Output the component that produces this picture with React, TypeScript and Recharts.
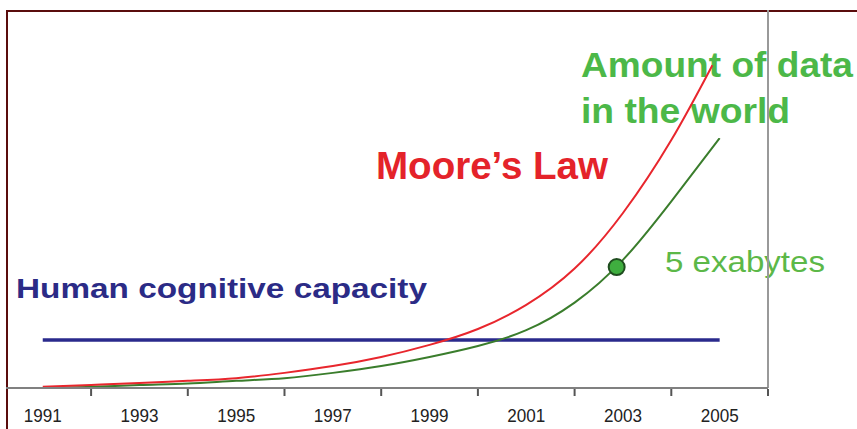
import React from 'react';
import { LineChart, Line, XAxis, YAxis, ReferenceLine, ReferenceDot, Customized } from 'recharts';

// years on the x axis, values in % of the plot height
const years = [1991, 1992, 1993, 1994, 1995, 1996, 1997, 1998, 1999, 2000, 2001, 2002, 2003, 2004, 2005];
const dataInWorld = [0, 0.3, 0.8, 1.2, 1.9, 2.6, 4.0, 5.8, 8.2, 11.1, 15.3, 22.6, 33.9, 49.4, 66.1];
const mooreYears = [1991, 1992, 1993, 1994, 1995, 1996, 1997, 1998, 1999, 2000, 2001, 2002, 2003, 2004, 2004.85];
const mooresLaw = [0.3, 0.8, 1.3, 1.9, 2.6, 4.0, 5.8, 8.2, 11.4, 15.6, 22.0, 31.6, 46.3, 65.6, 85.4];
const humanYears = [1991, 2005];
const humanCapacity = [12.7, 12.7];
const exabyteMark = { year: 2002.87, value: 32 };
const tickYears = [1991, 1992, 1993, 1994, 1995, 1996, 1997, 1998, 1999, 2000, 2001, 2002, 2003, 2004, 2005, 2006];

const worldData = years.map((year, i) => ({ year, value: dataInWorld[i] }));
const mooreData = mooreYears.map((year, i) => ({ year, value: mooresLaw[i] }));
const humanData = humanYears.map((year, i) => ({ year, value: humanCapacity[i] }));

const FONT = '"Liberation Sans", Arial, sans-serif';

const YearTick = (props: any) => {
  const { x, y, payload } = props;
  const yr = payload.value;
  if (yr % 2 === 0) {
    return <line x1={x} x2={x} y1={y + 1} y2={y + 8} stroke="#555" strokeWidth={2} />;
  }
  return (
    <text x={x} y={y + 34} textAnchor="middle" fontSize={19} textLength={38} lengthAdjust="spacingAndGlyphs" fill="#222" fontFamily={FONT}>
      {yr}
    </text>
  );
};

const Annotations = () => (
  <g fontFamily={FONT}>
    <text x={581} y={77} fontSize={35} fontWeight="bold" fill="#4cb848" textLength={272} lengthAdjust="spacingAndGlyphs">Amount of data</text>
    <text x={581} y={123} fontSize={35} fontWeight="bold" fill="#4cb848" textLength={209} lengthAdjust="spacingAndGlyphs">in the world</text>
    <text x={376} y={179} fontSize={38} fontWeight="bold" fill="#e4232a" textLength={232} lengthAdjust="spacingAndGlyphs">Moore’s Law</text>
    <text x={16} y={298} fontSize={27} fontWeight="bold" fill="#2b2b86" textLength={411} lengthAdjust="spacingAndGlyphs">Human cognitive capacity</text>
    <text x={665} y={272} fontSize={30} fill="#5cb848" textLength={160} lengthAdjust="spacingAndGlyphs">5 exabytes</text>
  </g>
);

export default function App() {
  return (
    <div style={{ position: 'absolute', left: 0, top: 0, width: 857, height: 429, background: '#fff', overflow: 'hidden' }}>
      <div style={{ position: 'absolute', left: 6, top: 10, width: 860, height: 430, borderTop: '2px solid #5a0d0d', borderLeft: '2px solid #5a0d0d' }} />
      <div style={{ position: 'absolute', left: 0, top: 0 }}>
        <LineChart width={857} height={429} margin={{ top: 10, right: 89, left: 6, bottom: 11 }}>
          <Customized component={<Annotations />} />
          <XAxis
            dataKey="year"
            type="number"
            domain={[1990.24, 2006]}
            ticks={tickYears}
            interval={0}
            tick={<YearTick />}
            tickLine={false}
            tickSize={0}
            tickMargin={0}
            height={30}
            axisLine={{ stroke: '#808080', strokeWidth: 2 }}
            allowDataOverflow
          />
          <YAxis type="number" domain={[0, 100]} hide />
          <ReferenceLine x={2006} stroke="#999" strokeWidth={2} />
          <Line data={humanData} dataKey="value" stroke="#2a2a8c" strokeWidth={3.5} dot={false} isAnimationActive={false} />
          <Line data={worldData} dataKey="value" type="natural" stroke="#3a7d2c" strokeWidth={2} dot={false} isAnimationActive={false} />
          <Line data={mooreData} dataKey="value" type="natural" stroke="#e8262d" strokeWidth={2} dot={false} isAnimationActive={false} />
          <ReferenceDot x={exabyteMark.year} y={exabyteMark.value} r={8} fill="#3fae3f" stroke="#1f4d1f" strokeWidth={2} />
        </LineChart>
      </div>
    </div>
  );
}
